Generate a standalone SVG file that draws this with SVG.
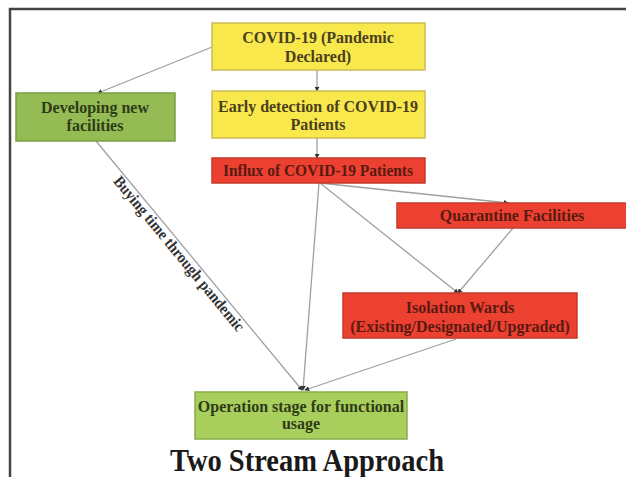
<svg xmlns="http://www.w3.org/2000/svg" width="626" height="477" viewBox="0 0 626 477">
<defs>
<marker id="ah" viewBox="0 0 6 6" refX="5" refY="3" markerWidth="5" markerHeight="5" orient="auto" markerUnits="userSpaceOnUse">
<path d="M0,0 L6,3 L0,6 z" fill="#333"/>
</marker>
</defs>
<style>
text{font-family:"Liberation Serif","Times New Roman",serif;text-anchor:middle;}
.lbl{font-size:16px;font-weight:bold;}
.y rect{fill:#f9e84c;stroke:#cdbb55;stroke-width:1.5;}
.y text{fill:#4a4020;}
.r rect{fill:#ec4030;stroke:#c53a2c;stroke-width:1.5;}
.r text{fill:#5a1a12;}
.g rect{fill:#95bb55;stroke:#7a9e45;stroke-width:1.5;}
.g2 rect{fill:#a8cf5c;stroke:#88ad48;stroke-width:1.5;}
.g text,.g2 text{fill:#2e3b18;}
.c line{stroke:#a0a0a0;stroke-width:1.3;fill:none;marker-end:url(#ah);}
</style>
<rect width="626" height="477" fill="#ffffff"/>
<path d="M10,477 V9 H626" fill="none" stroke="#444" stroke-width="2.5"/>

<g id="connectors" class="c">
<line x1="212" y1="47" x2="98" y2="93"/>
<line x1="317" y1="70" x2="317" y2="91"/>
<line x1="317" y1="138" x2="317" y2="158"/>
<line x1="320" y1="183" x2="508" y2="203"/>
<line x1="320" y1="183" x2="458" y2="293"/>
<line x1="513" y1="228" x2="458" y2="293"/>
<line x1="319" y1="183" x2="303" y2="390"/>
<line x1="96" y1="141" x2="302" y2="390"/>
<line x1="456" y1="339" x2="305" y2="390"/>
<text class="lbl" font-size="15" fill="#333" transform="translate(175,257) rotate(50.5)" textLength="196" lengthAdjust="spacingAndGlyphs">Buying time through pandemic</text>
</g>

<g id="covid" class="y">
<rect x="212" y="23" width="213" height="47"/>
<text class="lbl" x="318" y="43">COVID-19 (Pandemic</text>
<text class="lbl" x="318" y="62">Declared)</text>
</g>

<g id="early" class="y">
<rect x="212" y="91" width="213" height="47"/>
<text class="lbl" x="318" y="112" textLength="200" lengthAdjust="spacingAndGlyphs">Early detection of COVID-19</text>
<text class="lbl" x="318" y="130">Patients</text>
</g>

<g id="influx" class="r">
<rect x="212" y="158" width="213" height="25"/>
<text class="lbl" x="318" y="176" textLength="190" lengthAdjust="spacingAndGlyphs">Influx of COVID-19 Patients</text>
</g>

<g id="developing" class="g">
<rect x="16" y="93" width="159" height="48"/>
<text class="lbl" x="95" y="113">Developing new</text>
<text class="lbl" x="95" y="131">facilities</text>
</g>

<g id="quarantine" class="r">
<rect x="397" y="203" width="231" height="25"/>
<text class="lbl" x="512" y="221">Quarantine Facilities</text>
</g>

<g id="isolation" class="r">
<rect x="343" y="293" width="234" height="45"/>
<text class="lbl" x="460" y="313">Isolation Wards</text>
<text class="lbl" x="460" y="332">(Existing/Designated/Upgraded)</text>
</g>

<g id="operation" class="g2">
<rect x="195" y="392" width="212" height="47"/>
<text class="lbl" x="301" y="412">Operation stage for functional</text>
<text class="lbl" x="301" y="429">usage</text>
</g>

<text x="307" y="471" font-size="31" font-weight="bold" fill="#1a1a1a" textLength="274" lengthAdjust="spacingAndGlyphs">Two Stream Approach</text>
</svg>
